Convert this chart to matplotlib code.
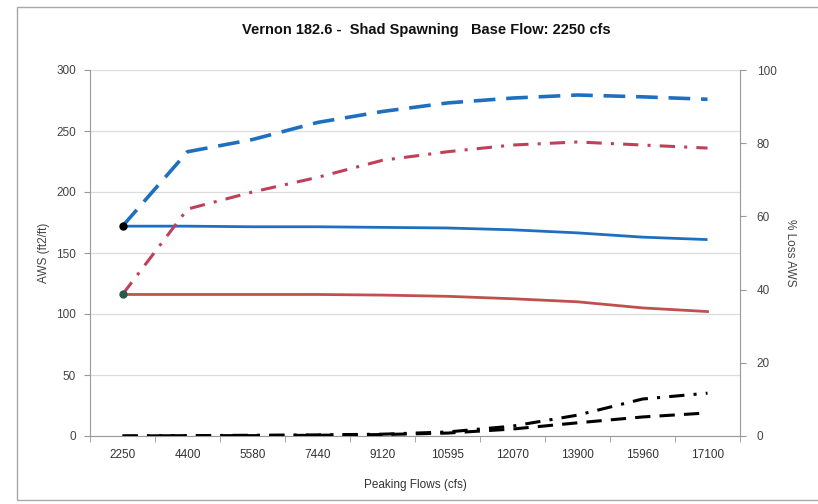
import matplotlib
matplotlib.use("Agg")
import matplotlib.pyplot as plt
from matplotlib.patches import Rectangle
from matplotlib.ticker import FixedLocator, NullFormatter

categories = ["2250", "4400", "5580", "7440", "9120", "10595", "12070", "13900", "15960", "17100"]
aws_blue = [172, 172, 171.5, 171.5, 171, 170.5, 169, 166.5, 163, 161]
aws_red = [116, 116, 116, 116, 115.5, 114.5, 112.5, 110, 105, 102]
peak_blue = [172, 233, 243, 257, 266, 273, 277, 279.5, 278, 276]
peak_red = [116, 186, 200, 212, 226, 233, 238.5, 241, 238.5, 236]
loss_dashdot = [0, 0.1, 0.2, 0.3, 0.5, 1.1, 2.7, 5.7, 10.1, 11.7]
loss_dashed = [0, 0.1, 0.1, 0.2, 0.4, 0.8, 1.9, 3.6, 5.2, 6.3]

plt.rcParams['font.family'] = ['Liberation Sans', 'DejaVu Sans']

fig = plt.figure(figsize=(8.18, 5.04), dpi=100)
fig.patches.append(Rectangle((17/818, 1-500/504), 1.0, (500-7)/504, transform=fig.transFigure,
                             fill=False, edgecolor='#a8a8a8', linewidth=1.0))

ax = fig.add_axes([90/818, 1-436/504, 650/818, (436-70)/504])
x = list(range(len(categories)))

blue = '#1F6FC0'
red = '#C0504D'
red2 = '#C0405A'

ax.plot(x, aws_blue, color=blue, lw=2.0, solid_capstyle='butt', zorder=3)
ax.plot(x, aws_red, color=red, lw=2.0, zorder=3)
ax.plot(x, peak_blue, color=blue, lw=2.6, dashes=(6, 3), zorder=3)
ax.plot(x, peak_red, color=red2, lw=2.2, dashes=(5, 3, 1, 3), zorder=3)
ax.plot([x[0]], [aws_blue[0]], 'o', color='black', ms=5, zorder=4)
ax.plot([x[0]], [aws_red[0]], 'o', color='#2a5a4a', ms=5, zorder=4)

ax.set_xlim(-0.5, 9.5)
ax.set_ylim(0, 300)
ax.set_yticks(range(0, 301, 50))
ax.set_xticks(x)
ax.set_xticklabels(categories)
ax.xaxis.set_minor_locator(FixedLocator([i + 0.5 for i in range(-1, 10)]))
ax.xaxis.set_minor_formatter(NullFormatter())
ax.tick_params(axis='x', which='major', length=0, pad=9, labelsize=8.5, labelcolor='#333333')
ax.tick_params(axis='x', which='minor', length=4, color='#999999')
ax.tick_params(axis='y', length=4, color='#999999', labelsize=8.5, labelcolor='#444444', pad=6)
ax.grid(axis='y', color='#dcdcdc', lw=0.9)
ax.set_axisbelow(True)
for s in ['top', 'right']:
    ax.spines[s].set_visible(False)
ax.spines['left'].set_color('#999999')
ax.spines['bottom'].set_color('#999999')

ax2 = ax.twinx()
ax2.plot(x, loss_dashdot, color='black', lw=2.2, dashes=(5, 3, 1, 3), zorder=3)
ax2.plot(x, loss_dashed, color='black', lw=2.2, dashes=(5, 3), zorder=3)
ax2.set_ylim(0, 100)
ax2.set_yticks(range(0, 101, 20))
ax2.tick_params(axis='y', length=4, color='#999999', labelsize=8.5, labelcolor='#444444', pad=8)
for s in ['top', 'left', 'bottom']:
    ax2.spines[s].set_visible(False)
ax2.spines['right'].set_color('#999999')

ax.set_ylabel('AWS (ft2/ft)', fontsize=8.5, color='#444444')
ax.yaxis.set_label_coords(-40/650, 0.5)
ax2.set_ylabel('% Loss AWS', fontsize=8.5, color='#444444', rotation=270, va='center')
ax2.yaxis.set_label_coords(1 + 50/650, 0.5)
ax.set_xlabel('Peaking Flows (cfs)', fontsize=8.5, color='#333333', labelpad=13)

fig.text(426/818, 1-30/504, 'Vernon 182.6 -  Shad Spawning   Base Flow: 2250 cfs',
         ha='center', va='center', fontsize=10.5, fontweight='bold', color='#111111')

fig.savefig('out.png', dpi=100)
